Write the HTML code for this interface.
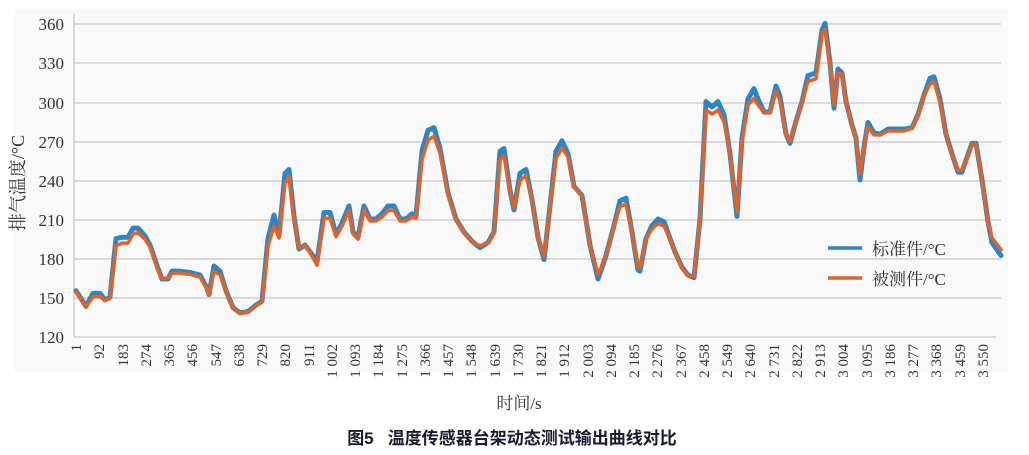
<!DOCTYPE html>
<html><head><meta charset="utf-8"><style>
html,body{margin:0;padding:0;background:#fff;width:1029px;height:455px;overflow:hidden}
svg{display:block}
.t{font-family:"Liberation Serif","Noto Serif CJK SC",serif;fill:#333}
</style></head><body>
<svg width="1029" height="455" viewBox="0 0 1029 455" xmlns="http://www.w3.org/2000/svg">
<rect x="14" y="10" width="994" height="362" fill="#f9f9f9"/>
<g stroke="#c8c8c8" stroke-width="1.3">
<line x1="74" y1="24" x2="1001" y2="24"/><line x1="74" y1="63" x2="1001" y2="63"/>
<line x1="74" y1="103" x2="1001" y2="103"/><line x1="74" y1="142" x2="1001" y2="142"/>
<line x1="74" y1="181" x2="1001" y2="181"/><line x1="74" y1="220" x2="1001" y2="220"/>
<line x1="74" y1="259" x2="1001" y2="259"/><line x1="74" y1="298" x2="1001" y2="298"/>
<line x1="74" y1="337" x2="996" y2="337"/><line x1="74" y1="14" x2="74" y2="337"/>
</g>
<g class="t" font-size="17" text-anchor="end">
<text x="64" y="30">360</text><text x="64" y="69">330</text><text x="64" y="109">300</text>
<text x="64" y="148">270</text><text x="64" y="187">240</text><text x="64" y="226">210</text>
<text x="64" y="265">180</text><text x="64" y="304">150</text><text x="64" y="343">120</text>
</g>
<text class="t" font-size="18" text-anchor="middle" transform="translate(24,183) rotate(-90)">排气温度/°C</text>
<g class="t" font-size="15" text-anchor="end">
<text transform="translate(81,344) rotate(-90)">1</text>
<text transform="translate(104,344) rotate(-90)">92</text>
<text transform="translate(128,344) rotate(-90)">183</text>
<text transform="translate(151,344) rotate(-90)">274</text>
<text transform="translate(174,344) rotate(-90)">365</text>
<text transform="translate(197,344) rotate(-90)">456</text>
<text transform="translate(221,344) rotate(-90)">547</text>
<text transform="translate(244,344) rotate(-90)">638</text>
<text transform="translate(267,344) rotate(-90)">729</text>
<text transform="translate(290,344) rotate(-90)">820</text>
<text transform="translate(314,344) rotate(-90)">911</text>
<text transform="translate(337,344) rotate(-90)">1 002</text>
<text transform="translate(360,344) rotate(-90)">1 093</text>
<text transform="translate(383,344) rotate(-90)">1 184</text>
<text transform="translate(407,344) rotate(-90)">1 275</text>
<text transform="translate(430,344) rotate(-90)">1 366</text>
<text transform="translate(453,344) rotate(-90)">1 457</text>
<text transform="translate(476,344) rotate(-90)">1 548</text>
<text transform="translate(500,344) rotate(-90)">1 639</text>
<text transform="translate(523,344) rotate(-90)">1 730</text>
<text transform="translate(546,344) rotate(-90)">1 821</text>
<text transform="translate(569,344) rotate(-90)">1 912</text>
<text transform="translate(593,344) rotate(-90)">2 003</text>
<text transform="translate(616,344) rotate(-90)">2 094</text>
<text transform="translate(639,344) rotate(-90)">2 185</text>
<text transform="translate(662,344) rotate(-90)">2 276</text>
<text transform="translate(686,344) rotate(-90)">2 367</text>
<text transform="translate(709,344) rotate(-90)">2 458</text>
<text transform="translate(732,344) rotate(-90)">2 549</text>
<text transform="translate(755,344) rotate(-90)">2 640</text>
<text transform="translate(779,344) rotate(-90)">2 731</text>
<text transform="translate(802,344) rotate(-90)">2 822</text>
<text transform="translate(825,344) rotate(-90)">2 913</text>
<text transform="translate(848,344) rotate(-90)">3 004</text>
<text transform="translate(872,344) rotate(-90)">3 095</text>
<text transform="translate(895,344) rotate(-90)">3 186</text>
<text transform="translate(918,344) rotate(-90)">3 277</text>
<text transform="translate(941,344) rotate(-90)">3 368</text>
<text transform="translate(965,344) rotate(-90)">3 459</text>
<text transform="translate(988,344) rotate(-90)">3 550</text>
</g>
<text class="t" font-size="17" x="519" y="409" text-anchor="middle">时间/s</text>
<text x="512" y="444" font-size="17" font-weight="bold" text-anchor="middle" fill="#1a1a2e" font-family="'Liberation Sans','Noto Sans CJK SC',sans-serif">图5&#160;&#160;&#160;温度传感器台架动态测试输出曲线对比</text>
<g transform="matrix(1 0 0 -1.304 0 493.5)" fill="none" stroke-linejoin="round" stroke-linecap="round">
<polyline vector-effect="non-scaling-stroke" stroke="#2a86c6" stroke-width="5" transform="translate(0,0.5)" points="76,155 86,143 93,153 100,153 105,148 110,150 116,195 122,196 128,196 133,203 138,203 145,197 150,190 158,172 162,164 168,164 172,170 180,170 190,169 200,167 207,157 209,152 214,174 220,170 226,155 233,142 240,138 248,139 256,144 262,147 268,195 274,213 279,197 285,245 289,248 294,212 299,187 305,190 310,185 317,177 324,215 330,215 336,198 342,207 349,220 353,200 358,196 364,220 370,210 376,210 382,214 388,220 394,220 400,210 406,210 412,214 416,212 422,262 428,278 434,280 440,264 448,230 456,210 464,200 472,193 480,188 488,192 494,200 500,262 504,264 510,232 514,217 520,245 526,248 532,225 538,196 544,179 550,220 556,262 562,270 568,260 574,235 582,228 590,190 598,164 606,182 614,205 620,224 626,226 632,200 638,171 640,170 646,195 652,205 658,210 664,208 670,195 676,183 682,173 688,167 694,165 700,210 706,300 712,296 718,300 724,290 730,260 737,212 742,272 748,302 754,310 758,302 764,292 770,292 776,312 780,304 786,275 790,268 796,285 802,300 808,320 816,322 822,355 825,360 830,330 834,295 838,325 842,322 846,300 852,282 856,272 860,240 864,265 868,284 874,276 880,275 888,279 896,279 904,279 912,280 918,290 924,305 930,318 934,319 940,302 946,275 952,260 958,246 962,246 966,255 972,268 976,268 982,240 988,208 992,192 1001,182"/>
<polyline vector-effect="non-scaling-stroke" stroke="#e0632a" stroke-width="3.5" points="76,155 86,143 93,151 100,151 105,148 110,150 116,190 122,192 128,192 133,199 138,200 145,195 150,189 158,171 162,165 168,165 172,169 180,169 190,168 200,166 207,157 209,152 214,170 220,168 226,155 233,142 240,138 248,139 256,144 262,147 268,190 274,205 279,196 285,238 289,243 294,210 299,188 305,190 310,185 317,175 324,211 330,211 336,197 342,205 349,217 353,199 358,195 364,217 370,209 376,209 382,212 388,217 394,217 400,209 406,209 412,212 416,211 422,256 428,271 434,274 440,261 448,229 456,210 464,200 472,193 480,190 488,192 494,200 500,256 504,259 510,232 514,219 520,240 526,244 532,225 538,196 544,182 550,220 556,257 562,265 568,258 574,235 582,228 590,190 598,168 606,182 614,205 620,220 626,222 632,200 638,174 640,173 646,195 652,203 658,207 664,205 670,195 676,183 682,173 688,167 694,166 700,210 706,294 712,291 718,294 724,285 730,260 737,216 742,270 748,298 754,303 758,298 764,292 770,292 776,308 780,302 786,275 790,270 796,285 802,300 808,316 816,318 822,352 825,356 830,330 834,298 838,322 842,322 846,300 852,282 856,272 860,245 864,265 868,281 874,275 880,275 888,278 896,278 904,278 912,280 918,290 924,305 930,314 934,316 940,300 946,275 952,260 958,248 962,248 966,255 972,268 976,268 982,240 988,208 992,196 1001,187"/>
</g>
<line x1="828" y1="248" x2="862" y2="248" stroke="#2a86c6" stroke-width="3.5"/>
<line x1="828" y1="278" x2="862" y2="278" stroke="#e0632a" stroke-width="3.5"/>
<g class="t" font-size="17"><text x="872" y="255">标准件/°C</text><text x="872" y="285">被测件/°C</text></g>
</svg>
</body></html>
